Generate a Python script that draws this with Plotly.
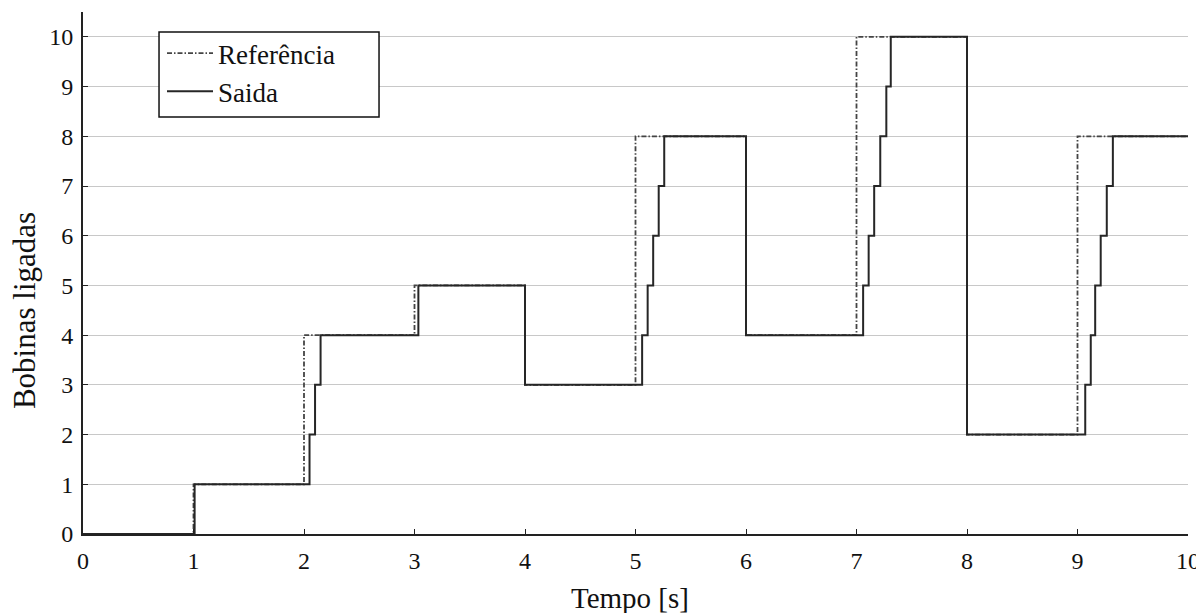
import plotly.graph_objects as go

# Reference signal (step changes)
ref_t = [0, 1, 2, 3, 4, 5, 6, 7, 8, 9, 10]
ref_v = [0, 1, 4, 5, 3, 8, 4, 10, 2, 8, 8]

# Output signal (coils switched on one by one)
out_t = [0, 1.01, 2.05, 2.10, 2.15, 3.035, 4.0,
         5.06, 5.11, 5.16, 5.21, 5.26, 6.0,
         7.06, 7.11, 7.16, 7.215, 7.27, 7.31, 8.0,
         9.07, 9.12, 9.16, 9.21, 9.265, 9.32, 10]
out_v = [0, 1, 2, 3, 4, 5, 3,
         4, 5, 6, 7, 8, 4,
         5, 6, 7, 8, 9, 10, 2,
         3, 4, 5, 6, 7, 8, 8]

x_ticks = list(range(0, 11))
y_ticks = list(range(0, 11))

FONT = "Liberation Serif, Times New Roman, serif"

fig = go.Figure()
fig.add_trace(go.Scatter(
    x=ref_t, y=ref_v, mode="lines", name="Referência",
    line=dict(shape="hv", color="#444444", width=1.8, dash="5px,2px,1.5px,2px"),
))
fig.add_trace(go.Scatter(
    x=out_t, y=out_v, mode="lines", name="Saida",
    line=dict(shape="hv", color="#262626", width=2),
))

# page body has an 8px margin, so the figure is sized/offset to compensate
fig.update_layout(
    width=1196, height=605,
    margin=dict(l=75, r=16, t=4, b=79, autoexpand=False),
    paper_bgcolor="white", plot_bgcolor="white",
    font=dict(family=FONT, size=24, color="#111111"),
    showlegend=True,
    legend=dict(
        x=0.0715, y=0.9674, xanchor="left", yanchor="top",
        borderwidth=0, bgcolor="rgba(0,0,0,0)",
        font=dict(family=FONT, size=27, color="#111111"),
        tracegroupgap=0, itemwidth=46,
    ),
    shapes=[
        # legend frame
        dict(type="rect", xref="paper", yref="paper",
             x0=0.0688, x1=0.2679, y0=0.7989, y1=0.9617,
             fillcolor="white", line=dict(color="#111111", width=1.5),
             layer="above"),
    ],
    xaxis=dict(
        range=[0, 10], tickvals=x_ticks, ticks="inside", ticklen=5,
        tickcolor="#222222", showline=True, linecolor="#222222", linewidth=1.8,
        showgrid=False, zeroline=False, ticklabelstandoff=4,
        tickfont=dict(size=24), automargin=False,
    ),
    yaxis=dict(
        range=[0, 10.5], tickvals=y_ticks, ticks="inside", ticklen=5,
        tickcolor="#222222", showline=True, linecolor="#222222", linewidth=1.8,
        showgrid=True, gridcolor="#c8c8c8", gridwidth=1, zeroline=False,
        ticklabelstandoff=3, tickfont=dict(size=24), automargin=False,
    ),
    annotations=[
        dict(text="Tempo [s]", xref="paper", yref="paper", x=0.495, y=-0.1226,
             xanchor="center", yanchor="middle", showarrow=False,
             font=dict(family=FONT, size=29, color="#111111")),
        dict(text="Bobinas ligadas", xref="paper", yref="paper", x=-0.0534, y=0.429,
             xanchor="center", yanchor="middle", textangle=-90, showarrow=False,
             font=dict(family=FONT, size=31, color="#111111")),
    ],
)

fig.write_html("out.html")
